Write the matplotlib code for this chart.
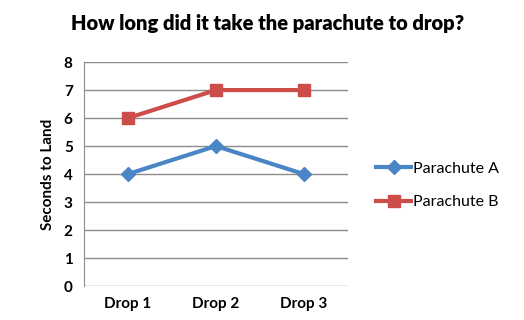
import matplotlib.pyplot as plt

drops = ["Drop 1", "Drop 2", "Drop 3"]
parachute_a = [4, 5, 4]
parachute_b = [6, 7, 7]

plt.rcParams['font.family'] = ['Lato', 'DejaVu Sans']

fig = plt.figure(figsize=(5.24, 3.2), dpi=100)
ax = fig.add_axes([0.160, 0.106, 0.504, 0.700])

x = range(len(drops))
ax.plot(x, parachute_a, color="#4A86C5", lw=3, marker="D", ms=7, label="Parachute A")
ax.plot(x, parachute_b, color="#CC4D4A", lw=3, marker="s", ms=9, label="Parachute B")

ax.set_xlim(-0.5, 2.5)
ax.set_ylim(0, 8)
ax.set_yticks(range(9))
ax.set_xticks(list(x))
ax.set_xticklabels(drops)
ax.grid(axis="y", color="#8c8c8c", lw=1)
ax.set_axisbelow(True)
for s in ["top", "right", "bottom"]:
    ax.spines[s].set_visible(False)
ax.spines["left"].set_color("#8c8c8c")
ax.tick_params(length=0, labelsize=11, pad=8)
for lab in ax.get_xticklabels() + ax.get_yticklabels():
    lab.set_fontweight("bold")
ax.set_ylabel("Seconds to Land", fontsize=11, fontweight="bold", labelpad=6)

fig.suptitle("How long did it take the parachute to drop?", x=0.51, y=0.955,
             fontsize=14.5, fontweight="heavy")

fig.legend(loc="center left", bbox_to_anchor=(0.69, 0.42), frameon=False,
           fontsize=11.5, handlelength=2.2, labelspacing=1.2, handletextpad=0.1)

fig.savefig("out.png")
